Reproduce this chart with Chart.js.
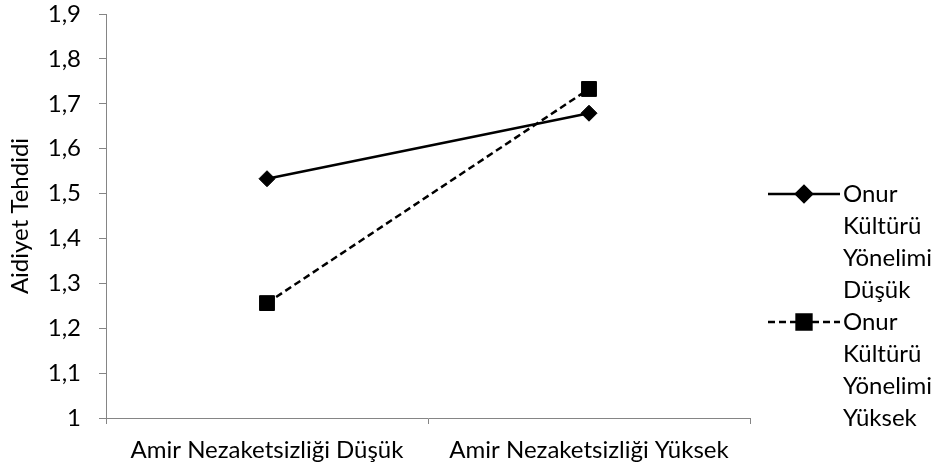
<!doctype html>
<html lang="tr">
<head>
  <meta charset="utf-8">
  <title>Aidiyet Tehdidi</title>
  <script src="https://cdn.jsdelivr.net/npm/chart.js"></script>
  <style>
    html, body { margin: 0; padding: 0; background: #fff; }
    #wrap { position: relative; width: 940px; height: 471px; }
  </style>
</head>
<body>
  <div id="wrap"><canvas id="canvas_chart" width="940" height="471"></canvas></div>
  <script type="text/javascript">

    // data
    const categories = ['Amir Nezaketsizliği Düşük', 'Amir Nezaketsizliği Yüksek'];
    const low_honor = [1.533, 1.679];
    const high_honor = [1.256, 1.733];
    const series_names = [['Onur', 'Kültürü', 'Yönelimi', 'Düşük'], ['Onur', 'Kültürü', 'Yönelimi', 'Yüksek']];
    const y_title = 'Aidiyet Tehdidi';

    const font_family = 'Lato, "Open Sans", sans-serif';
    const font_size = 24;
    const axis_color = '#858585';

    // legend on the right, text wrapped over several lines like the original
    const side_legend = {
      id: 'side_legend',
      afterDraw(chart) {
        const ctx = chart.ctx;
        const tops = [194, 322];
        ctx.save();
        chart.data.datasets.forEach((ds, i) => {
          const y = tops[i];
          ctx.strokeStyle = '#000';
          ctx.lineWidth = ds.borderWidth;
          ctx.setLineDash(ds.borderDash || []);
          ctx.beginPath();
          ctx.moveTo(768, y);
          ctx.lineTo(840, y);
          ctx.stroke();
          ctx.setLineDash([]);
          Chart.helpers.drawPoint(ctx, { pointStyle: ds.pointStyle, radius: ds.pointRadius, borderWidth: 1 }, 804, y);
          ctx.fillStyle = '#000';
          ctx.fill();
          ctx.font = font_size + 'px ' + font_family;
          ctx.textBaseline = 'middle';
          ctx.textAlign = 'left';
          ds.label.forEach((line, k) => ctx.fillText(line, 843, y + k * 32));
        });
        ctx.restore();
      }
    };

    new Chart(document.getElementById('canvas_chart'), {
      type: 'line',
      data: {
        labels: categories,
        datasets: [
          { label: series_names[0], data: low_honor, borderColor: '#000', backgroundColor: '#000', borderWidth: 2.5, pointStyle: 'rectRot', pointRadius: 8, pointBorderWidth: 1, tension: 0 },
          { label: series_names[1], data: high_honor, borderColor: '#000', backgroundColor: '#000', borderWidth: 2.5, borderDash: [7, 4], pointStyle: 'rect', pointRadius: 10.5, pointBorderWidth: 1, tension: 0 }
        ]
      },
      options: {
        responsive: false, animation: false,
        layout: { padding: { top: 14, right: 190, left: 0, bottom: 0 } },
        plugins: { legend: { display: false }, tooltip: { enabled: false } },
        scales: {
          x: {
            offset: true,
            grid: { offset: true, drawOnChartArea: false, drawTicks: true, tickLength: 6, color: axis_color },
            border: { display: true, color: axis_color, width: 1 },
            ticks: { color: '#000', padding: 12, font: { family: font_family, size: font_size } },
            afterFit: (scale) => { scale.height = 53; scale.paddingLeft = 0; scale.paddingRight = 0; }
          },
          y: {
            min: 1, max: 1.9,
            grid: { drawOnChartArea: false, drawTicks: true, tickLength: 7, color: axis_color },
            border: { display: true, color: axis_color, width: 1 },
            ticks: {
              stepSize: 0.1, color: '#000', padding: 18, font: { family: font_family, size: font_size },
              callback: (v) => (Math.round(v * 10) / 10).toString().replace('.', ',')
            },
            title: { display: true, text: y_title, color: '#000', font: { family: font_family, size: font_size }, padding: { top: 6, bottom: 0 } },
            afterFit: (scale) => { scale.width = 106; scale.paddingTop = 0; scale.paddingBottom = 0; }
          }
        }
      },
      plugins: [side_legend]
    });

  </script>
</body>
</html>
